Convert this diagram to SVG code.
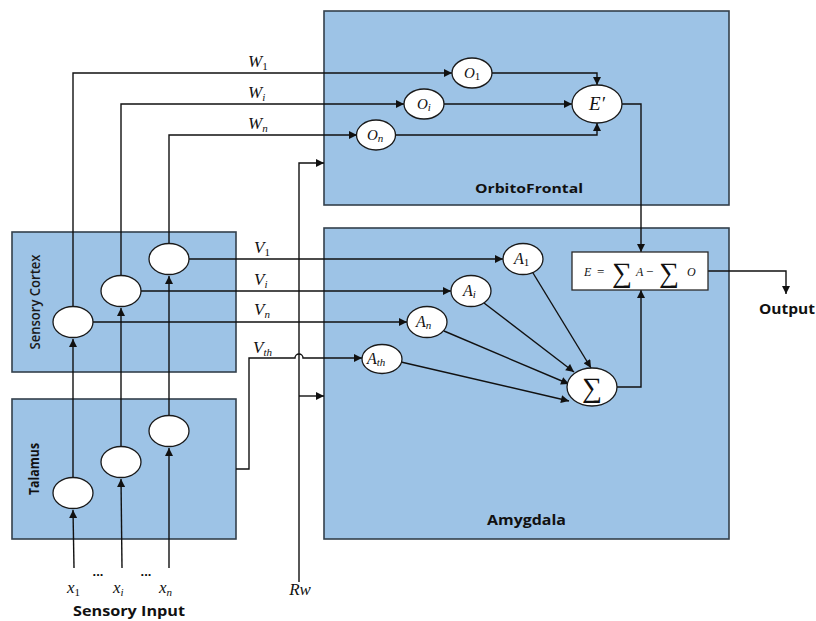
<svg xmlns="http://www.w3.org/2000/svg" width="816" height="621" viewBox="0 0 816 621">
  <style>
    .region { fill: #9dc3e6; stroke: #34404c; stroke-width: 1.6; }
    .node { fill: #ffffff; stroke: #1a1a1a; stroke-width: 1.3; }
    .wire { fill: none; stroke: #111111; stroke-width: 1.4; }
    .math { font-family: "Liberation Serif", "DejaVu Serif", serif; font-style: italic; fill: #111; }
    .sym { font-family: "Liberation Serif", "DejaVu Serif", serif; fill: #111; }
    .sub { font-size: 11px; }
    .title { font-family: "Open Sans", "Liberation Sans", sans-serif; font-weight: bold; fill: #111; }
    .side { font-family: "Open Sans", "Liberation Sans", sans-serif; font-weight: 600; fill: #1a1a1a; }
  </style>
  <defs>
    <marker id="arrow" viewBox="0 0 10 10" refX="10" refY="5" markerWidth="9" markerHeight="8" markerUnits="userSpaceOnUse" orient="auto">
      <path d="M0,0 L10,5 L0,10 Z" fill="#111"/>
    </marker>
  </defs>

  <rect width="816" height="621" fill="#ffffff"/>

  <!-- brain regions -->
  <g id="orbitofrontal">
    <rect class="region" x="324" y="11" width="405" height="194"/>
    <text class="title" x="475" y="193" font-size="13" textLength="108" lengthAdjust="spacingAndGlyphs">OrbitoFrontal</text>
  </g>
  <g id="amygdala">
    <rect class="region" x="324" y="228" width="405" height="311"/>
    <text class="title" x="487" y="525" font-size="13.5" textLength="79" lengthAdjust="spacingAndGlyphs">Amygdala</text>
  </g>
  <g id="sensory-cortex">
    <rect class="region" x="12" y="232" width="224" height="140"/>
    <text class="side" x="0" y="0" font-size="14.5" text-anchor="middle" textLength="95" lengthAdjust="spacingAndGlyphs" transform="translate(40,302) rotate(-90)">Sensory Cortex</text>
  </g>
  <g id="talamus">
    <rect class="region" x="12" y="399" width="224" height="140"/>
    <text class="title" x="0" y="0" font-size="14" text-anchor="middle" textLength="52" lengthAdjust="spacingAndGlyphs" transform="translate(39,469) rotate(-90)">Talamus</text>
  </g>

  <!-- connectors -->
  <g id="connectors">
    <!-- sensory inputs into thalamus -->
    <path class="wire" d="M74,568 L73,510" marker-end="url(#arrow)"/>
    <path class="wire" d="M122,568 L121,479" marker-end="url(#arrow)"/>
    <path class="wire" d="M169,568 L169,448" marker-end="url(#arrow)"/>
    <!-- thalamus to sensory cortex -->
    <path class="wire" d="M73,477.5 L73,339" marker-end="url(#arrow)"/>
    <path class="wire" d="M121,446.5 L121,308" marker-end="url(#arrow)"/>
    <path class="wire" d="M169,415.5 L169,276" marker-end="url(#arrow)"/>
    <!-- sensory cortex to orbitofrontal (W weights) -->
    <path class="wire" d="M73,306.5 V73 H452" marker-end="url(#arrow)"/>
    <path class="wire" d="M121,275.5 V104 H404" marker-end="url(#arrow)"/>
    <path class="wire" d="M169,243.5 V135 H357" marker-end="url(#arrow)"/>
    <!-- O nodes into E' -->
    <path class="wire" d="M492,73 H597 V85" marker-end="url(#arrow)"/>
    <path class="wire" d="M444,104 H572" marker-end="url(#arrow)"/>
    <path class="wire" d="M395,135 H597 V123" marker-end="url(#arrow)"/>
    <!-- E' down to the error box -->
    <path class="wire" d="M622,104 H641 V252" marker-end="url(#arrow)"/>
    <!-- sensory cortex to amygdala (V weights) -->
    <path class="wire" d="M189,259 H503" marker-end="url(#arrow)"/>
    <path class="wire" d="M141,291 H451" marker-end="url(#arrow)"/>
    <path class="wire" d="M93,322 H407" marker-end="url(#arrow)"/>
    <!-- thalamus shortcut V_th, hopping over the Rw line -->
    <path class="wire" d="M236,469 H249 V358 H295 A4,4 0 0 1 303,358 H362" marker-end="url(#arrow)"/>
    <!-- A nodes into the sum -->
    <path class="wire" d="M533,273 L591,368" marker-end="url(#arrow)"/>
    <path class="wire" d="M484,303 L574,372" marker-end="url(#arrow)"/>
    <path class="wire" d="M444,331 L569,384" marker-end="url(#arrow)"/>
    <path class="wire" d="M401,362 L569,401" marker-end="url(#arrow)"/>
    <!-- sum up to the error box -->
    <path class="wire" d="M617,387 H641 V290" marker-end="url(#arrow)"/>
    <!-- output -->
    <path class="wire" d="M708,271 H786 V294" marker-end="url(#arrow)"/>
    <!-- reward signal -->
    <path class="wire" d="M299,582 V163 H324" marker-end="url(#arrow)"/>
    <path class="wire" d="M299,396 H324" marker-end="url(#arrow)"/>
  </g>

  <!-- thalamus nodes -->
  <g id="thal-1"><ellipse class="node" cx="73" cy="493" rx="20" ry="15.5"/></g>
  <g id="thal-i"><ellipse class="node" cx="121" cy="462" rx="20" ry="15.5"/></g>
  <g id="thal-n"><ellipse class="node" cx="169" cy="431" rx="20" ry="15.5"/></g>

  <!-- sensory cortex nodes -->
  <g id="cortex-1"><ellipse class="node" cx="73" cy="322" rx="20" ry="15.5"/></g>
  <g id="cortex-i"><ellipse class="node" cx="121" cy="291" rx="20" ry="15.5"/></g>
  <g id="cortex-n"><ellipse class="node" cx="169" cy="259" rx="20" ry="15.5"/></g>

  <!-- orbitofrontal nodes -->
  <g id="o-1">
    <ellipse class="node" cx="472" cy="73" rx="20" ry="15"/>
    <text class="math" x="464" y="78" font-size="15">O<tspan class="sub" font-style="normal" dy="2">1</tspan></text>
  </g>
  <g id="o-i">
    <ellipse class="node" cx="424" cy="104" rx="20" ry="15"/>
    <text class="math" x="417" y="109" font-size="15">O<tspan class="sub" dy="2">i</tspan></text>
  </g>
  <g id="o-n">
    <ellipse class="node" cx="376" cy="135" rx="19.5" ry="15"/>
    <text class="math" x="367" y="140" font-size="15">O<tspan class="sub" dy="2">n</tspan></text>
  </g>
  <g id="e-prime">
    <ellipse class="node" cx="597" cy="104" rx="25" ry="19"/>
    <text class="math" x="597" y="110" font-size="19" text-anchor="middle">E′</text>
  </g>

  <!-- amygdala nodes -->
  <g id="a-1">
    <ellipse class="node" cx="523" cy="259" rx="20" ry="15.5"/>
    <text class="math" x="514" y="264" font-size="16">A<tspan class="sub" font-style="normal" dy="2">1</tspan></text>
  </g>
  <g id="a-i">
    <ellipse class="node" cx="471" cy="291" rx="20" ry="15.5"/>
    <text class="math" x="463" y="296" font-size="16">A<tspan class="sub" dy="2">i</tspan></text>
  </g>
  <g id="a-n">
    <ellipse class="node" cx="427" cy="322" rx="20" ry="15.5"/>
    <text class="math" x="416" y="327" font-size="16">A<tspan class="sub" dy="2">n</tspan></text>
  </g>
  <g id="a-th">
    <ellipse class="node" cx="382" cy="359" rx="20" ry="14.5"/>
    <text class="math" x="367" y="364" font-size="16">A<tspan class="sub" dy="2">th</tspan></text>
  </g>
  <g id="sum">
    <ellipse class="node" cx="592" cy="387" rx="25" ry="19"/>
    <text class="sym" x="592" y="397" font-size="28" text-anchor="middle">∑</text>
  </g>
  <g id="error">
    <rect x="572" y="252" width="136" height="38" fill="#ffffff" stroke="#2a2a2a" stroke-width="1.3"/>
    <text class="math" x="584" y="276" font-size="12">E</text>
    <text class="sym" x="597" y="276" font-size="13">=</text>
    <text class="sym" x="612" y="282" font-size="28">∑</text>
    <text class="math" x="636" y="276" font-size="12">A</text>
    <text class="sym" x="646" y="276" font-size="13">−</text>
    <text class="sym" x="659" y="282" font-size="28">∑</text>
    <text class="math" x="687" y="276" font-size="12">O</text>
  </g>

  <!-- weight labels -->
  <g id="weight-labels">
    <text class="math" x="248" y="67" font-size="17">W<tspan class="sub" font-style="normal" dy="3">1</tspan></text>
    <text class="math" x="248" y="98" font-size="17">W<tspan class="sub" dy="3">i</tspan></text>
    <text class="math" x="248" y="129" font-size="17">W<tspan class="sub" dy="3">n</tspan></text>
    <text class="math" x="254" y="253" font-size="17">V<tspan class="sub" font-style="normal" dy="3">1</tspan></text>
    <text class="math" x="254" y="285" font-size="17">V<tspan class="sub" dy="3">i</tspan></text>
    <text class="math" x="254" y="315" font-size="17">V<tspan class="sub" dy="3">n</tspan></text>
    <text class="math" x="253" y="353" font-size="17">V<tspan class="sub" dy="3">th</tspan></text>
  </g>

  <!-- input and output labels -->
  <g id="inputs">
    <text class="math" x="67" y="593" font-size="17">x<tspan class="sub" font-style="normal" dy="3">1</tspan></text>
    <text class="math" x="113" y="593" font-size="17">x<tspan class="sub" dy="3">i</tspan></text>
    <text class="math" x="159" y="593" font-size="17">x<tspan class="sub" dy="3">n</tspan></text>
    <text x="98" y="576" font-size="13" font-weight="bold" text-anchor="middle" font-family="Liberation Sans, sans-serif" fill="#111">...</text>
    <text x="146" y="576" font-size="13" font-weight="bold" text-anchor="middle" font-family="Liberation Sans, sans-serif" fill="#111">...</text>
    <text class="title" x="73" y="616" font-size="14.5" textLength="112" lengthAdjust="spacingAndGlyphs">Sensory Input</text>
  </g>
  <g id="reward">
    <text class="math" x="300" y="595" font-size="17" text-anchor="middle">Rw</text>
  </g>
  <g id="output">
    <text class="title" x="759" y="314" font-size="14" textLength="56" lengthAdjust="spacingAndGlyphs">Output</text>
  </g>
</svg>
